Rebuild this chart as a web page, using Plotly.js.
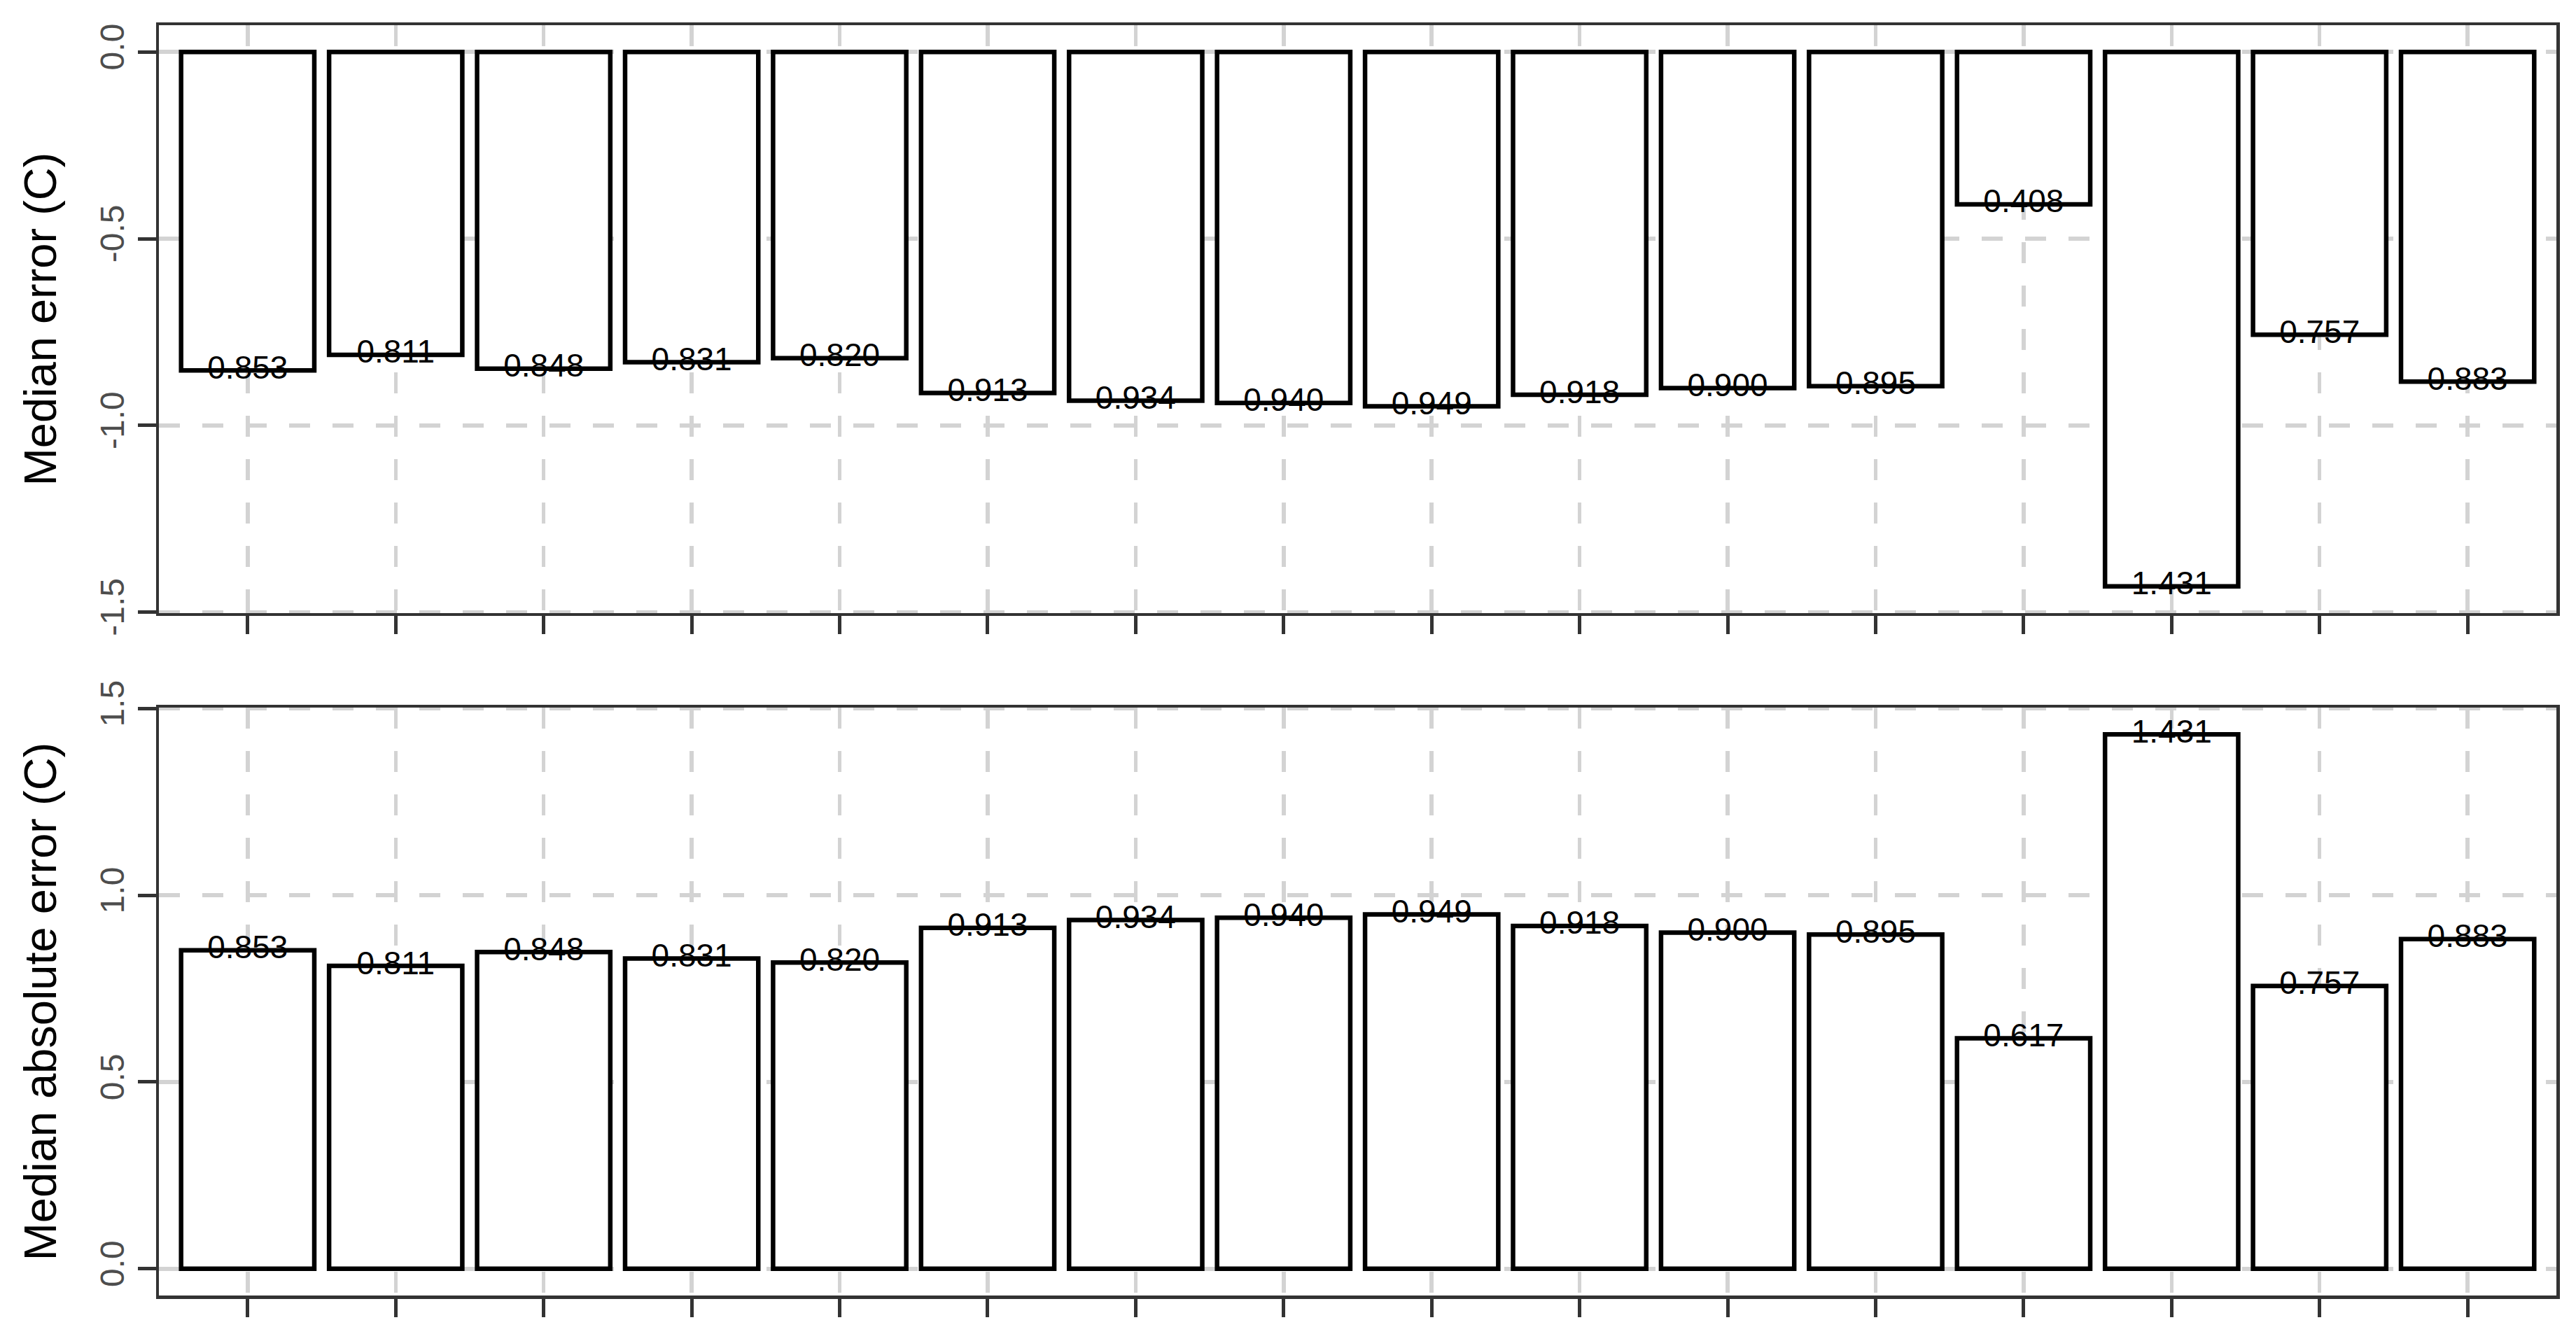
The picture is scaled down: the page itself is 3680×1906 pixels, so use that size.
<!DOCTYPE html>
<html>
<head>
<meta charset="utf-8">
<script src="https://cdn.plot.ly/plotly-3.0.1.min.js"></script>
<style>
  html, body { margin: 0; padding: 0; background: #ffffff; }
  #chart { width: 3680px; height: 1906px; }
</style>
</head>
<body>
<div id="chart"></div>
<script>
// categories (x labels are blank in the original)
var categories = ["1","2","3","4","5","6","7","8","9","10","11","12","13","14","15","16"];

// median error (C), negative
var medianError = [-0.853, -0.811, -0.848, -0.831, -0.820, -0.913, -0.934, -0.940, -0.949, -0.918, -0.900, -0.895, -0.408, -1.431, -0.757, -0.883];
// median absolute error (C)
var medianAbsError = [0.853, 0.811, 0.848, 0.831, 0.820, 0.913, 0.934, 0.940, 0.949, 0.918, 0.900, 0.895, 0.617, 1.431, 0.757, 0.883];

var topTicks = [-1.5, -1.0, -0.5, 0.0];
var topTickText = ["-1.5", "-1.0", "-0.5", "0.0"];
var bottomTicks = [0.0, 0.5, 1.0, 1.5];
var bottomTickText = ["0.0", "0.5", "1.0", "1.5"];

function fmt(v) { return Math.abs(v).toFixed(3); }

var barStyle = {
  color: '#ffffff',
  line: { color: '#000000', width: 6.5 }
};

var bar1 = {
  x: categories, y: medianError, type: 'bar',
  width: 0.9, marker: barStyle,
  xaxis: 'x', yaxis: 'y', hoverinfo: 'none'
};
var lab1 = {
  x: categories, y: medianError, mode: 'text', type: 'scatter',
  text: medianError.map(fmt), textposition: 'middle center',
  textfont: { size: 46, color: '#000000', family: 'Liberation Sans, Arial, sans-serif' },
  xaxis: 'x', yaxis: 'y', hoverinfo: 'none'
};
var bar2 = {
  x: categories, y: medianAbsError, type: 'bar',
  width: 0.9, marker: barStyle,
  xaxis: 'x2', yaxis: 'y2', hoverinfo: 'none'
};
var lab2 = {
  x: categories, y: medianAbsError, mode: 'text', type: 'scatter',
  text: medianAbsError.map(fmt), textposition: 'middle center',
  textfont: { size: 46, color: '#000000', family: 'Liberation Sans, Arial, sans-serif' },
  xaxis: 'x2', yaxis: 'y2', hoverinfo: 'none'
};

var gridStyle = {
  showgrid: true, gridcolor: '#d3d3d3', gridwidth: 5.5, griddash: '30px,32px',
  showline: true, mirror: true, linecolor: '#333333', linewidth: 4.5,
  ticks: 'outside', ticklen: 26, tickwidth: 5, tickcolor: '#333333',
  zeroline: false
};

function xAxis(anchor) {
  return Object.assign({}, gridStyle, {
    type: 'category', categoryorder: 'array', categoryarray: categories,
    range: [-0.6, 15.6], showticklabels: false, anchor: anchor
  });
}
function yAxis(domain, range, tv, tt, title, anchor) {
  return Object.assign({}, gridStyle, {
    domain: domain, range: range, tickvals: tv, ticktext: tt,
    tickangle: -90, anchor: anchor,
    tickfont: { size: 48, color: '#4d4d4d', family: 'Liberation Sans, Arial, sans-serif' },
    title: { text: title, font: { size: 65, color: '#000000', family: 'Liberation Sans, Arial, sans-serif' }, standoff: 34 }
  });
}

var layout = {
  width: 3680, height: 1906,
  margin: { l: 227, r: 28, t: 36, b: 55 },
  paper_bgcolor: '#ffffff', plot_bgcolor: '#ffffff',
  showlegend: false, barmode: 'overlay',
  font: { family: 'Liberation Sans, Arial, sans-serif' },
  xaxis: xAxis('y'),
  xaxis2: xAxis('y2'),
  yaxis: yAxis([0.5372, 1], [-1.5026, 0.0716], topTicks, topTickText, 'Median error (C)', 'x'),
  yaxis2: yAxis([0, 0.4628], [-0.0716, 1.5026], bottomTicks, bottomTickText, 'Median absolute error (C)', 'x2')
};

Plotly.newPlot('chart', [bar1, bar2, lab1, lab2], layout, { staticPlot: true });
</script>
</body>
</html>
